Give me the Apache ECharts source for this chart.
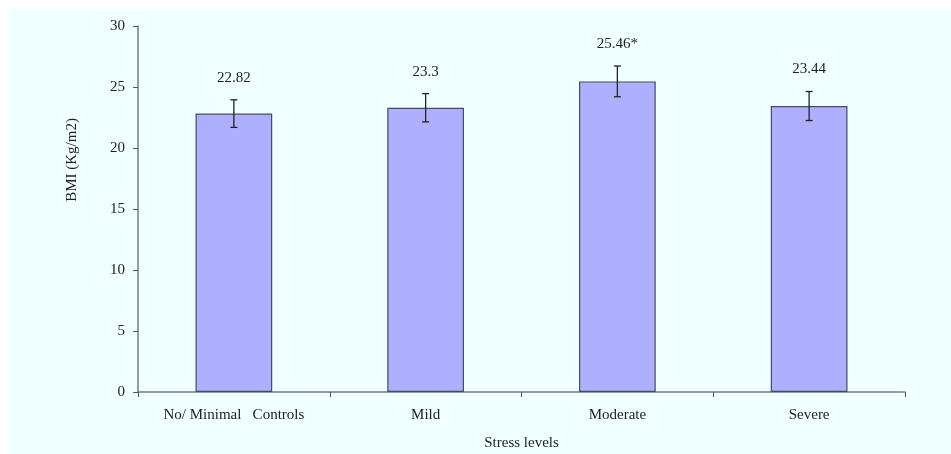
<!DOCTYPE html>
<html>
<head>
<meta charset="utf-8">
<script src="https://cdn.jsdelivr.net/npm/echarts@6/dist/echarts.min.js"></script>
<style>
  html, body { margin: 0; padding: 0; background: #ffffff; }
  #chart { width: 951px; height: 454px; }
</style>
</head>
<body>
<div id="chart"></div>
<script>
// Mean BMI by stress level, with standard-deviation whiskers
const categories = ['No/ Minimal   Controls', 'Mild', 'Moderate', 'Severe'];
const bmiMeans = [22.82, 23.3, 25.46, 23.44];
const bmiSD = [1.13, 1.16, 1.26, 1.19];
const valueLabels = ['22.82', '23.3', '25.46*', '23.44'];
const yTicks = { min: 0, max: 30, interval: 5 };

const FONT = '"Liberation Serif", "Times New Roman", serif';
const chart = echarts.init(document.getElementById('chart'), null, { renderer: 'canvas' });

const errorData = bmiMeans.map((m, i) => [i, m - bmiSD[i], m + bmiSD[i], valueLabels[i]]);

chart.setOption({
  backgroundColor: '#ffffff',
  animation: false,
  graphic: [{
    type: 'rect',
    z: -10,
    shape: { x: 9, y: 9, width: 942, height: 445 },
    style: { fill: '#F0FFFF' },
    silent: true
  }],
  grid: { left: 138, right: 46, top: 26, bottom: 62, containLabel: false, outerBoundsMode: 'none' },
  xAxis: {
    type: 'category',
    data: categories,
    name: 'Stress levels',
    nameLocation: 'middle',
    nameGap: 44,
    nameTextStyle: { fontFamily: FONT, fontSize: 15, color: '#222' },
    axisLine: { lineStyle: { color: '#7a7a7a', width: 1.5 } },
    axisTick: { show: true, length: 5, lineStyle: { color: '#555' }, alignWithLabel: false },
    axisLabel: { fontFamily: FONT, fontSize: 15, color: '#222', margin: 16 },
    splitLine: { show: false }
  },
  yAxis: {
    type: 'value',
    min: yTicks.min,
    max: yTicks.max,
    interval: yTicks.interval,
    name: 'BMI (Kg/m2)',
    nameLocation: 'middle',
    nameRotate: 90,
    nameGap: 58,
    nameTextStyle: { fontFamily: FONT, fontSize: 15, color: '#222', padding: [0, 0, 0, 98] },
    axisLine: { show: true, lineStyle: { color: '#7a7a7a', width: 1.5 } },
    axisTick: { show: true, length: 5, lineStyle: { color: '#555' } },
    axisLabel: { fontFamily: FONT, fontSize: 15, color: '#222', margin: 13 },
    splitLine: { show: false }
  },
  series: [
    {
      type: 'bar',
      data: bmiMeans,
      barWidth: '40%',
      itemStyle: { color: '#AEB0FF', borderColor: '#4a4a5a', borderWidth: 1.2 }
    },
    {
      type: 'custom',
      data: errorData,
      z: 5,
      renderItem: function (params, api) {
        const idx = api.value(0);
        const lo = api.coord([idx, api.value(1)]);
        const hi = api.coord([idx, api.value(2)]);
        const cap = 3.5;
        const st = { stroke: '#222', lineWidth: 1.3 };
        return {
          type: 'group',
          children: [
            { type: 'line', shape: { x1: hi[0], y1: hi[1], x2: lo[0], y2: lo[1] }, style: st },
            { type: 'line', shape: { x1: hi[0] - cap, y1: hi[1], x2: hi[0] + cap, y2: hi[1] }, style: st },
            { type: 'line', shape: { x1: lo[0] - cap, y1: lo[1], x2: lo[0] + cap, y2: lo[1] }, style: st },
            {
              type: 'text',
              style: {
                text: valueLabels[params.dataIndex],
                x: hi[0],
                y: hi[1] - 22,
                textAlign: 'center',
                textVerticalAlign: 'middle',
                font: '15px ' + FONT,
                fill: '#222'
              }
            }
          ]
        };
      }
    }
  ]
});
</script>
</body>
</html>
